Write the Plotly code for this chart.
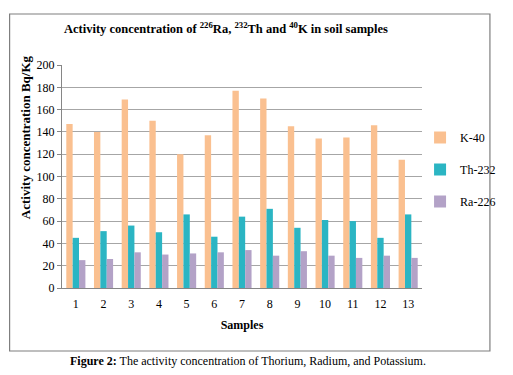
import plotly.graph_objects as go

samples = [str(i) for i in range(1, 14)]
k40 = [147, 140, 169, 150, 120, 137, 177, 170, 145, 134, 135, 146, 115]
th232 = [45, 51, 56, 50, 66, 46, 64, 71, 54, 61, 60, 45, 66]
ra226 = [25, 26, 32, 30, 31, 32, 34, 29, 33, 29, 27, 29, 27]
series_names = ["K-40", "Th-232", "Ra-226"]
colors = ["#FAC090", "#2BB5C3", "#B3A2C7"]

W, H = 513, 375
L, R, T, B = 62, 80, 65, 87
pw, ph = W - L - R, H - T - B

def px(x):
    return (x - L) / pw

def py(y):
    return (H - y - B) / ph

serif = "Liberation Serif, Times New Roman, serif"

fig = go.Figure()
for name, vals, c in zip(series_names, [k40, th232, ra226], colors):
    fig.add_trace(go.Bar(x=samples, y=vals, name=name, legendgroup=name,
                         marker=dict(color=c, line=dict(width=0))))

fig.update_layout(
    width=W, height=H,
    margin=dict(l=L, r=R, t=T, b=B),
    paper_bgcolor="white", plot_bgcolor="white",
    barmode="group", bargap=0.31, bargroupgap=0,
    font=dict(family=serif, size=12, color="#000000"),
    showlegend=True,
    legend=dict(x=px(431), y=py(123), xanchor="left", yanchor="top",
                font=dict(family=serif, size=12, color="#000"),
                itemwidth=30, tracegroupgap=13, bgcolor="rgba(0,0,0,0)"),
    xaxis=dict(type="category", showgrid=False, showline=True, linecolor="#868686", linewidth=1,
               ticks="", ticklabelstandoff=5, tickfont=dict(family=serif, size=12, color="#000"),
               title=dict(text="<b>Samples</b>", font=dict(family=serif, size=12, color="#000"), standoff=10)),
    yaxis=dict(range=[0, 200], dtick=20, showgrid=True, gridcolor="#A6A6A6", gridwidth=1,
               showline=True, linecolor="#868686", linewidth=1, ticks="outside", ticklen=4,
               tickcolor="#868686", tickfont=dict(family=serif, size=12, color="#000"), zeroline=False),
    shapes=[dict(type="rect", xref="paper", yref="paper", x0=px(8), x1=px(503), y0=py(351), y1=py(14),
                 line=dict(color="#7F7F7F", width=1.2))],
    annotations=[
        dict(text="<b>Activity concentration of <sup>226</sup>Ra, <sup>232</sup>Th and <sup>40</sup>K in soil samples</b>",
             xref="paper", yref="paper", x=px(231), y=py(28), xanchor="center", yanchor="middle",
             showarrow=False, font=dict(family=serif, size=12.5, color="#000")),
        dict(text="<b>Activity concentration Bq/Kg</b>", xref="paper", yref="paper",
             x=px(24), y=py(137), xanchor="center", yanchor="middle", textangle=-90,
             showarrow=False, font=dict(family=serif, size=13, color="#000")),
        dict(text="<b>Figure 2:</b> The activity concentration of Thorium, Radium, and Potassium.",
             xref="paper", yref="paper", x=px(254), y=py(361), xanchor="center", yanchor="middle",
             showarrow=False, font=dict(family=serif, size=12, color="#000")),
    ],
)

fig.write_html("out.html", config={"displayModeBar": False},
               post_script="document.body.style.margin='0';document.body.style.overflow='hidden';")
